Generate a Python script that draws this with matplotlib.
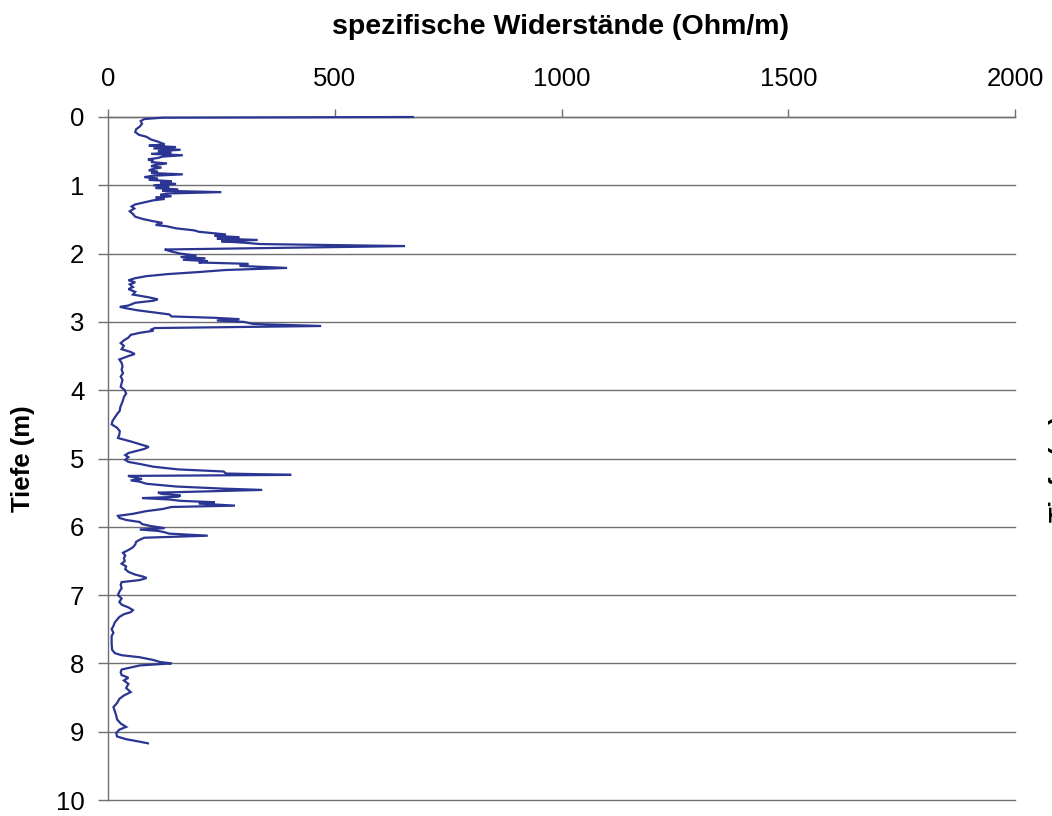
import matplotlib
matplotlib.use("Agg")
import matplotlib.pyplot as plt
import matplotlib.ticker as ticker

# ---- Data (depth in m, resistivity in Ohm/m) ----
DEPTH = [
    0.00, 0.01, 0.03, 0.06, 0.10, 0.14, 0.18, 0.22, 0.26, 0.29,
    0.33, 0.36, 0.40, 0.42, 0.44, 0.46, 0.48, 0.50, 0.52, 0.54,
    0.56, 0.58, 0.60, 0.62, 0.64, 0.66, 0.68, 0.70, 0.72, 0.74,
    0.76, 0.78, 0.80, 0.82, 0.84, 0.86, 0.88, 0.90, 0.92, 0.94,
    0.96, 0.98, 1.00, 1.02, 1.04, 1.06, 1.08, 1.10, 1.12, 1.14,
    1.16, 1.18, 1.20, 1.22, 1.25, 1.28, 1.31, 1.34, 1.38, 1.42,
    1.46, 1.49, 1.52, 1.55, 1.58, 1.60, 1.63, 1.66, 1.68, 1.70,
    1.72, 1.74, 1.76, 1.78, 1.80, 1.82, 1.84, 1.86, 1.89, 1.94,
    1.97, 2.00, 2.03, 2.05, 2.07, 2.09, 2.11, 2.13, 2.15, 2.18,
    2.21, 2.24, 2.27, 2.30, 2.33, 2.36, 2.39, 2.42, 2.45, 2.49,
    2.52, 2.56, 2.60, 2.64, 2.67, 2.69, 2.72, 2.76, 2.78, 2.80,
    2.83, 2.86, 2.89, 2.92, 2.94, 2.96, 2.98, 3.00, 3.03, 3.06,
    3.09, 3.11, 3.13, 3.16, 3.19, 3.23, 3.27, 3.31, 3.35, 3.40,
    3.44, 3.47, 3.50, 3.55, 3.60, 3.65, 3.70, 3.75, 3.80, 3.85,
    3.90, 3.95, 4.00, 4.05, 4.10, 4.15, 4.20, 4.25, 4.30, 4.35,
    4.40, 4.45, 4.50, 4.55, 4.60, 4.65, 4.70, 4.75, 4.80, 4.83,
    4.86, 4.89, 4.92, 4.95, 4.98, 5.02, 5.05, 5.08, 5.12, 5.16,
    5.19, 5.22, 5.24, 5.255, 5.28, 5.30, 5.32, 5.34, 5.37, 5.41,
    5.44, 5.46, 5.50, 5.52, 5.54, 5.56, 5.58, 5.60, 5.62, 5.64,
    5.66, 5.69, 5.71, 5.74, 5.77, 5.81, 5.84, 5.87, 5.90, 5.93,
    5.96, 5.99, 6.02, 6.04, 6.06, 6.08, 6.10, 6.13, 6.16, 6.19,
    6.22, 6.26, 6.30, 6.34, 6.38, 6.42, 6.46, 6.50, 6.54, 6.58,
    6.62, 6.66, 6.70, 6.73, 6.75, 6.78, 6.81, 6.85, 6.90, 6.95,
    7.00, 7.05, 7.10, 7.14, 7.18, 7.22, 7.25, 7.28, 7.32, 7.36,
    7.40, 7.45, 7.50, 7.55, 7.60, 7.70, 7.80, 7.85, 7.88, 7.91,
    7.95, 7.98, 8.00, 8.03, 8.06, 8.09, 8.13, 8.17, 8.21, 8.25,
    8.30, 8.36, 8.42, 8.47, 8.52, 8.58, 8.64, 8.70, 8.76, 8.82,
    8.88, 8.93, 8.97, 9.02, 9.07, 9.11, 9.14, 9.17,
]

RESISTIVITY = [
    672, 120, 80, 72, 75, 70, 62, 60, 68, 85,
    95, 110, 125, 90, 150, 100, 160, 110, 140, 95,
    165, 120, 110, 88, 100, 95, 130, 105, 95, 118,
    100, 90, 110, 95, 165, 100, 80, 110, 90, 140,
    115, 150, 100, 135, 105, 155, 120, 250, 130, 115,
    140, 105, 125, 100, 80, 60, 52, 58, 48, 55,
    60, 75, 95, 120, 105, 130, 150, 190, 200, 230,
    260, 235, 290, 240, 330, 250, 300, 335, 655, 125,
    140, 160, 195, 160, 215, 165, 220, 200, 310, 290,
    395, 260, 200, 132, 85, 60, 45, 60, 48, 55,
    45, 60, 55, 90, 110, 100, 60, 45, 26, 40,
    65, 100, 135, 140, 235, 290, 240, 300, 320, 470,
    103, 96, 100, 70, 50, 45, 35, 28, 35, 30,
    50, 59, 45, 25, 30, 32, 30, 33, 28, 32,
    30, 28, 37, 40, 35, 33, 30, 27, 26, 20,
    15, 10, 8, 20, 26, 25, 22, 50, 75, 90,
    80, 62, 45, 38, 45, 38, 45, 70, 100, 155,
    255, 260, 404, 44, 60, 75, 50, 70, 85, 150,
    250, 340, 110, 120, 160, 155, 75, 135, 160, 235,
    200, 280, 140, 120, 85, 55, 22, 25, 40, 70,
    75, 95, 125, 70, 110, 125, 135, 220, 80, 70,
    62, 60, 55, 45, 33, 38, 35, 37, 30, 40,
    38, 45, 60, 78, 85, 70, 30, 28, 30, 25,
    22, 30, 25, 30, 45, 55, 50, 35, 25, 20,
    15, 12, 8, 12, 8, 8, 9, 15, 30, 70,
    100, 115, 140, 70, 50, 30, 28, 30, 45, 35,
    45, 40, 50, 35, 25, 20, 12, 15, 18, 20,
    28, 40, 25, 18, 20, 40, 65, 88,
]

X_TICKS = [0, 500, 1000, 1500, 2000]
Y_TICKS = list(range(0, 11))

TITLE = "spezifische Widerstände (Ohm/m)"
YLABEL = "Tiefe (m)"

LINE_COLOR = "#2b3592"
GRID_COLOR = "#707070"


def main():
    plt.rcParams["font.family"] = ["Liberation Sans", "DejaVu Sans"]

    fig = plt.figure(figsize=(10.52, 8.16), dpi=100)
    ax = fig.add_axes([108 / 1052, 1 - 800 / 816, (1015 - 108) / 1052, (800 - 117) / 816])

    # clip_on off so the first reading at depth 0 is not cut in half by the top edge
    ax.plot(RESISTIVITY, DEPTH, color=LINE_COLOR, linewidth=1.6,
            solid_joinstyle="miter", clip_on=False, zorder=5)

    ax.set_xlim(0, 2000)
    ax.set_ylim(10, 0)

    # x axis on top, like the Excel depth log
    ax.xaxis.tick_top()
    ax.xaxis.set_major_locator(ticker.FixedLocator(X_TICKS))
    ax.yaxis.set_major_locator(ticker.FixedLocator(Y_TICKS))
    ax.tick_params(axis="x", direction="out", length=6, width=1, color=GRID_COLOR,
                   pad=13, labelsize=18.5)
    ax.tick_params(axis="y", direction="out", length=7, width=1, color=GRID_COLOR,
                   pad=10, labelsize=18.5)

    for side in ("right", "bottom"):
        ax.spines[side].set_visible(False)
    for side in ("left", "top"):
        ax.spines[side].set_color(GRID_COLOR)
        ax.spines[side].set_linewidth(1)

    ax.grid(axis="y", color=GRID_COLOR, linewidth=1)
    for gl in ax.get_ygridlines():
        gl.set_clip_on(False)
    ax.set_axisbelow(True)
    ax.patch.set_alpha(0)

    fig.text(561 / 1052, 1 - 27 / 816, TITLE, ha="center", va="center",
             fontsize=20.5, fontweight="bold")
    fig.text(23 / 1052, 1 - 459 / 816, YLABEL, ha="center", va="center",
             rotation=90, fontsize=18.5, fontweight="bold")
    # second depth label, cut off at the right edge as in the original sheet
    fig.text(1049 / 1052, 1 - 469 / 816, YLABEL, ha="left", va="center",
             rotation=90, fontsize=18.5, fontweight="bold")

    fig.savefig("out.png", dpi=100)
    plt.close(fig)


if __name__ == "__main__":
    main()
